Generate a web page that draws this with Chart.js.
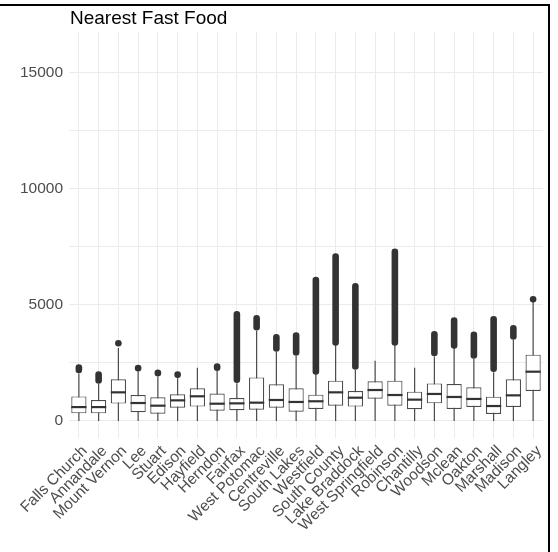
<!DOCTYPE html>
<html>
<head>
<meta charset="utf-8">
<script src="https://cdn.jsdelivr.net/npm/chart.js@4"></script>
<style>
  html, body { margin: 0; padding: 0; background: #fff; }
  #wrap { position: relative; width: 558px; height: 552px; overflow: hidden; }
  #moldura {
    position: absolute; left: -10px; top: 4px; width: 560px; height: 600px;
    border-top: 2.5px solid #000; border-right: 2.5px solid #000; box-sizing: border-box;
  }
</style>
</head>
<body>
<div id="wrap">
  <canvas id="grafico" width="558" height="552"></canvas>
  <div id="moldura"></div>
</div>
<script>
// escolas (categorias do eixo x)
const escolas = ['Falls Church', 'Annandale', 'Mount Vernon', 'Lee', 'Stuart', 'Edison', 'Hayfield',
  'Herndon', 'Fairfax', 'West Potomac', 'Centreville', 'South Lakes', 'Westfield', 'South County',
  'Lake Braddock', 'West Springfield', 'Robinson', 'Chantilly', 'Woodson', 'Mclean', 'Oakton',
  'Marshall', 'Madison', 'Langley'];

// quartis e bigodes (distancia ate o fast food mais proximo)
const q1 =      [330, 330, 750, 375, 315, 575, 620, 445, 460, 490, 575, 400, 515, 660, 620, 960, 660, 505, 760, 515, 605, 300, 605, 1290];
const mediana = [600, 600, 1235, 775, 660, 890, 1065, 745, 760, 790, 905, 820, 850, 1235, 1005, 1335, 1120, 920, 1165, 1035, 950, 645, 1105, 2125];
const q3 =      [1060, 905, 1800, 1120, 1020, 1150, 1410, 1180, 990, 1880, 1580, 1410, 1135, 1740, 1290, 1710, 1740, 1265, 1620, 1595, 1450, 1050, 1800, 2860];
const bigodeMin = [0, 0, 0, 0, 0, 0, 0, 0, 0, 0, 0, 0, 0, 0, 0, 0, 0, 0, 0, 0, 0, 0, 0, 0];
const bigodeMax = [2050, 1595, 3150, 2125, 1910, 1840, 2300, 2155, 1625, 3890, 2975, 2800, 1980, 3230, 2200, 2600, 3230, 2300, 2785, 3100, 2670, 2100, 3490, 5150];

// faixa dos outliers (null = sem outliers)
const outlierMin = [2200, 1745, 3350, 2270, 2060, 1990, null, 2300, 1775, 4040, 3125, 2950, 2130, 3380, 2350, null, 3380, null, 2935, 3250, 2820, 2250, 3640, 5245];
const outlierMax = [2300, 2000, 3350, 2280, 2080, 2000, null, 2350, 4600, 4430, 3610, 3680, 6080, 7090, 5800, null, 7290, null, 3740, 4330, 3710, 4385, 4000, 5245];

// ticks do eixo y
const ticksY = [0, 2500, 5000, 7500, 10000, 12500, 15000];
const rotulosY = [0, 5000, 10000, 15000];

const fonte = '"Liberation Sans", Arial, Helvetica, sans-serif';

// desenha bigodes, medianas, outliers e titulo usando as escalas do grafico
const boxplotPlugin = {
  id: 'boxplot',
  beforeDatasetsDraw(chart) {
    const ctx = chart.ctx;
    const x = chart.scales.x, y = chart.scales.y;
    ctx.save();
    ctx.strokeStyle = '#4a4a4a';
    ctx.lineWidth = 1.2;
    for (let i = 0; i < escolas.length; i++) {
      const px = x.getPixelForValue(i);
      ctx.beginPath();
      ctx.moveTo(px, y.getPixelForValue(bigodeMin[i]));
      ctx.lineTo(px, y.getPixelForValue(bigodeMax[i]));
      ctx.stroke();
    }
    ctx.restore();
  },
  afterDatasetsDraw(chart) {
    const ctx = chart.ctx;
    const x = chart.scales.x, y = chart.scales.y;
    const meta = chart.getDatasetMeta(0);
    ctx.save();
    for (let i = 0; i < escolas.length; i++) {
      const px = x.getPixelForValue(i);
      const barra = meta.data[i];
      const meia = barra.width / 2;
      // mediana
      ctx.strokeStyle = '#333333';
      ctx.lineWidth = 2.2;
      ctx.beginPath();
      ctx.moveTo(px - meia, y.getPixelForValue(mediana[i]));
      ctx.lineTo(px + meia, y.getPixelForValue(mediana[i]));
      ctx.stroke();
      // outliers
      if (outlierMin[i] != null) {
        ctx.strokeStyle = '#333333';
        ctx.lineWidth = 6.6;
        ctx.lineCap = 'round';
        ctx.beginPath();
        ctx.moveTo(px, y.getPixelForValue(outlierMin[i]));
        ctx.lineTo(px, y.getPixelForValue(outlierMax[i]) - 0.01);
        ctx.stroke();
        ctx.lineCap = 'butt';
      }
    }
    // titulo
    ctx.fillStyle = '#000';
    ctx.font = '19px ' + fonte;
    ctx.textBaseline = 'middle';
    ctx.textAlign = 'left';
    ctx.fillText('Nearest Fast Food', chart.chartArea.left + 1, 19);
    ctx.restore();
  }
};

const dados = {
  labels: escolas,
  datasets: [{
    data: escolas.map((e, i) => [q1[i], q3[i]]),
    backgroundColor: '#ffffff',
    borderColor: '#4a4a4a',
    borderWidth: 1.2,
    borderSkipped: false,
    barPercentage: 0.77,
    categoryPercentage: 1
  }]
};

const opcoes = {
  responsive: false,
  animation: false,
  layout: { padding: { top: 32, right: 15, left: 0, bottom: 0 } },
  plugins: { legend: { display: false }, tooltip: { enabled: false }, title: { display: false } },
  scales: {
    x: {
      grid: { color: '#ebebeb', lineWidth: 1, offset: false, drawTicks: false },
      border: { display: false },
      ticks: {
        color: '#4d4d4d', font: { family: fonte, size: 15.5 },
        minRotation: 45, maxRotation: 45, autoSkip: false, padding: 4, labelOffset: 6
      },
      afterFit(scale) { scale.height = 114; }
    },
    y: {
      min: -733, max: 16767,
      grid: { color: '#ebebeb', lineWidth: 1, drawTicks: false },
      border: { display: false },
      ticks: {
        color: '#4d4d4d', font: { family: fonte, size: 15.5 }, padding: 6,
        callback: (v) => rotulosY.includes(v) ? String(v) : ''
      },
      afterBuildTicks(scale) { scale.ticks = ticksY.map(v => ({ value: v })); },
      afterFit(scale) { scale.width = 69; }
    }
  }
};

new Chart(document.getElementById('grafico'), { type: 'bar', data: dados, options: opcoes, plugins: [boxplotPlugin] });
</script>
</body>
</html>
